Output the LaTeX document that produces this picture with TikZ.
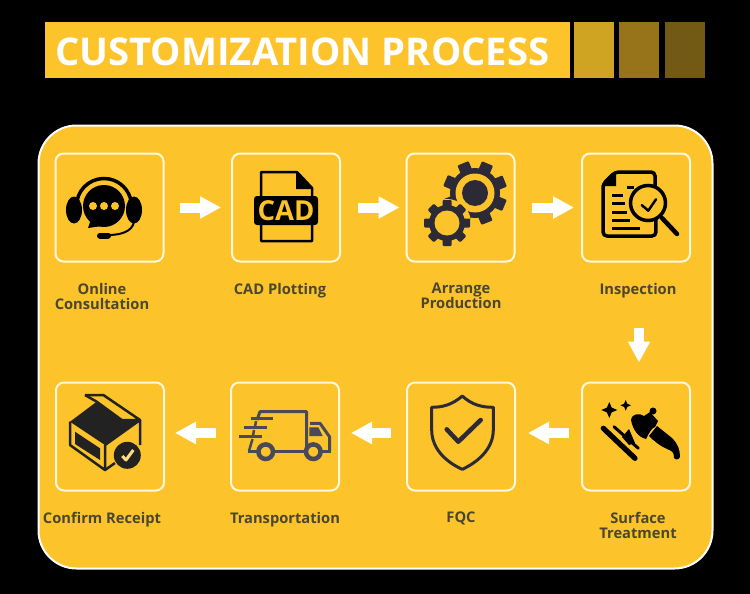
\documentclass[tikz,border=0pt]{standalone}
\usepackage{fontspec}
\setmainfont{Open Sans}[BoldFont={Open Sans Bold}]
\usetikzlibrary{positioning, arrows.meta}
\definecolor{panelyellow}{HTML}{FCC42A}
\definecolor{labelgray}{HTML}{4A4630}
\definecolor{geardark}{HTML}{2B2A36}
\definecolor{truckgray}{HTML}{4A495A}
\definecolor{boxline}{HTML}{FFF8E0}

\begin{document}
\begin{tikzpicture}[
		x=1pt, y=-1pt,
		stepbox/.style={draw=boxline, line width=2pt, rounded corners=8pt, minimum size=108pt, inner sep=0pt, outer sep=0pt},
		steplabel/.style={anchor=north, inner sep=0pt, align=center, text=labelgray, font=\fontsize{14.7}{15}\selectfont\bfseries},
		flow/.style={draw=white, line width=10pt, -{Triangle[length=21pt, width=21pt, fill=white]}},
		swatch/.style={minimum width=40pt, minimum height=56pt, inner sep=0pt, outer sep=0pt}
		]
		
		\fill[black] (0,0) rectangle (750,594);
		\useasboundingbox (0,0) rectangle (750,594);
		
		% ==========================================
		% 1. TITLE BAR
		% ==========================================
		\node[fill=panelyellow, minimum width=525pt, minimum height=56pt, inner sep=0pt, outer sep=0pt] (titlebar) at (307.5,50) {};
		\node[anchor=west, inner sep=0pt, text=white, font=\fontsize{38.2}{38}\selectfont\bfseries] (titletext) at (55,52) {CUSTOMIZATION PROCESS};
		\node[swatch, fill={rgb,255:red,208;green,164;blue,35}] (swatch1) at (594,50) {};
		\node[swatch, fill={rgb,255:red,151;green,116;blue,26}] (swatch2) at (639,50) {};
		\node[swatch, fill={rgb,255:red,115;green,90;blue,20}] (swatch3) at (685,50) {};
		
		% ==========================================
		% 2. PANEL AND STEP BOXES
		% ==========================================
		\node[draw=white, fill=panelyellow, line width=2pt, rounded corners=38pt, minimum width=674pt, minimum height=443pt, inner sep=0pt, outer sep=0pt] (panel) at (375.5,347) {};
		
		\node[stepbox] (consult) at (109.5,207.5) {};
		\node[stepbox] (cad) at (286,207.5) {};
		\node[stepbox] (arrange) at (460.5,207.5) {};
		\node[stepbox] (inspect) at (636,207.5) {};
		\node[stepbox] (surface) at (636,436.5) {};
		\node[stepbox] (fqc) at (461,436.5) {};
		\node[stepbox] (transport) at (285,436.5) {};
		\node[stepbox] (receipt) at (110,436.5) {};
		
		\node[steplabel] (consult_text) at (102,283) {Online\\Consultation};
		\node[steplabel] (cad_text) at (280,283) {CAD Plotting};
		\node[steplabel] (arrange_text) at (461,283) {Arrange\\Production};
		\node[steplabel] (inspect_text) at (638,283) {Inspection};
		\node[steplabel] (surface_text) at (638,512) {Surface\\Treatment};
		\node[steplabel] (fqc_text) at (461,512) {FQC};
		\node[steplabel] (transport_text) at (285,512) {Transportation};
		\node[steplabel] (receipt_text) at (102,512) {Confirm Receipt};
		
		% ==========================================
		% 3. ARROWS BETWEEN STEPS
		% ==========================================
		\draw[flow, shorten <=16pt, shorten >=11pt] (consult) -- (cad);
		\draw[flow, shorten <=18pt, shorten >=7pt] (cad) -- (arrange);
		\draw[flow, shorten <=17pt, shorten >=8pt] (arrange) -- (inspect);
		\draw[flow, shorten <=66pt, shorten >=20pt] ([xshift=3pt]inspect.south) -- ([xshift=3pt]surface.north);
		\draw[flow, shorten <=13pt, shorten >=13pt] ([yshift=3.5pt]surface.west) -- ([yshift=3.5pt]fqc.east);
		\draw[flow, shorten <=16pt, shorten >=12pt] ([yshift=3.5pt]fqc.west) -- ([yshift=3.5pt]transport.east);
		\draw[flow, shorten <=15pt, shorten >=11pt] ([yshift=3.5pt]transport.west) -- ([yshift=3.5pt]receipt.east);
		
		% ==========================================
		% 4. ICONS, TOP ROW
		% ==========================================
		% headset
		\fill[black] (104,206) circle (21);
		\fill[black] (90,222) -- (88,228) -- (102,226) -- cycle;
		\fill[panelyellow] (93,206) circle (4) (104,206) circle (4) (115,206) circle (4);
		\draw[black, line width=3.5pt] (104,206) ++(190:27.5) arc (190:350:27.5);
		\fill[black] (74,210) ellipse (8 and 13.5);
		\fill[black] (134,210) ellipse (8 and 13.5);
		\draw[black, line width=2pt] (134,222) .. controls (132,232) and (120,235) .. (108,235);
		\draw[black, line width=6pt, line cap=round] (100,235.5) -- (108,235.5);
		
		% CAD file
		\draw[black, line width=2.5pt, line join=round] (261,172) -- (297,172) -- (312,188) -- (312,241) -- (261,241) -- cycle;
		\fill[black] (296,172) -- (313,189) -- (296,189) -- cycle;
		\fill[black, rounded corners=3pt] (254,196) rectangle (318,225);
		\node[inner sep=0pt, text=panelyellow, font=\fontsize{27.5}{27}\selectfont\bfseries] (cad_word) at (286,211) {CAD};
		
		% gears
		\fill[geardark] (475,193) circle (25);
		\foreach \a in {0,45,...,315} {
			\fill[geardark, rounded corners=1pt, rotate around={\a+22:(475,193)}] (469,193) rectangle (481,161);
		}
		\fill[panelyellow] (475,193) circle (19.5);
		\fill[geardark] (475,193) circle (13);
		\fill[panelyellow] (447,223) circle (24);
		\fill[geardark] (447,223) circle (18);
		\foreach \a in {0,45,...,315} {
			\fill[geardark, rounded corners=1pt, rotate around={\a:(447,223)}] (442.5,223) rectangle (451.5,200);
		}
		\fill[panelyellow] (447,223) circle (12.5);
		
		% inspection sheet
		\draw[black, line width=3.5pt, rounded corners=4pt] (615,172) -- (655,172) -- (656,236) -- (603,236) -- (603,184) -- cycle;
		\fill[black] (616,171) -- (601,186) -- (616,186) -- cycle;
		\foreach \ya/\xa in {195/623, 203/625, 212/627, 220/630, 228/640} {
			\draw[black, line width=3pt] (612,\ya) -- (\xa,\ya);
		}
		\draw[black, line width=3pt] (627,187) -- (634,187);
		\draw[black, fill=panelyellow, line width=3.5pt] (648,203) circle (17.5);
		\draw[black, line width=4.5pt, line cap=round] (662,218) -- (677,234);
		\draw[black, line width=2.5pt, line cap=round, line join=round] (641.7,205) -- (648.3,210.7) -- (656,199.3);
		
		% ==========================================
		% 5. ICONS, BOTTOM ROW
		% ==========================================
		% surface treatment
		\fill[black] (609.3,402) -- (611.7,407.6) -- (617.3,410) -- (611.7,412.4) -- (609.3,418) -- (606.9,412.4) -- (601.3,410) -- (606.9,407.6) -- cycle;
		\fill[black] (625.7,400) -- (627.3,403.7) -- (631,405.3) -- (627.3,406.9) -- (625.7,410.6) -- (624.1,406.9) -- (620.4,405.3) -- (624.1,403.7) -- cycle;
		\draw[black, line width=5.3pt, line cap=round] (603.3,428.3) -- (635,458.3);
		\draw[black, line width=3pt, line cap=round] (614,426.7) -- (638.3,448.3);
		\fill[black] (622,437) -- (629,429) -- (635,443) -- (629,445) -- cycle;
		\fill[black] (631,420) .. controls (632,413) and (640,413) .. (644,416) -- (650,412) -- (658,421) -- (655,427) .. controls (652,428) and (650,431) .. (646,439) .. controls (638,437) and (633,430) .. (631,420) -- cycle;
		\fill[black] (653,411) circle (3.5);
		\fill[black] (649,436) -- (657,426) -- (672,438) .. controls (678,444) and (680,450) .. (680,457) .. controls (679,460) and (675,460) .. (674,458) .. controls (674,452) and (672,451) .. (667,449) .. controls (660,446) and (654,441) .. (649,436) -- cycle;
		
		% shield
		\draw[geardark, line width=3pt, line join=round] (462.3,396) .. controls (452,405) and (442,407.3) .. (431.7,407.3) -- (431.7,430) .. controls (431.7,450) and (448,463) .. (462.3,469.3) .. controls (476,463) and (493.3,450) .. (493.3,430) -- (493.3,407.3) .. controls (482,407.3) and (472,405) .. (462.3,396) -- cycle;
		\draw[geardark, line width=4.5pt, line cap=round, line join=round] (446.7,429.3) -- (458.3,441.7) -- (480.7,420);
		
		% truck
		\draw[truckgray, line width=3pt, line join=round] (257,420) -- (260,411.7) -- (306.7,411.7) -- (306.7,451);
		\draw[truckgray, line width=3pt, line join=round] (310,423.3) -- (320,423.3) -- (329.5,436.7) -- (329.5,451);
		\fill[truckgray] (309.3,427.3) -- (318.3,427.3) -- (322.7,436) -- (309.3,436) -- cycle;
		\draw[truckgray, line width=3.5pt] (248.3,451.7) -- (331,451.7);
		\draw[truckgray, line width=2.5pt] (250.7,418.3) -- (273.3,418.3);
		\draw[truckgray, line width=2.5pt] (244.3,427.3) -- (267.3,427.3);
		\draw[truckgray, line width=2.5pt] (239,436.7) -- (261.7,436.7);
		\draw[truckgray, line width=2.5pt] (256,421) -- (255,427);
		\draw[truckgray, line width=2.5pt] (254,430) -- (253,436);
		\draw[truckgray, line width=2.5pt] (252.5,439) -- (249,451);
		\draw[truckgray, fill=panelyellow, line width=4.5pt] (265.7,451.7) circle (7.3);
		\draw[truckgray, fill=panelyellow, line width=4.5pt] (313.3,451.7) circle (7.3);
		
		% opened box
		\definecolor{boxdark}{HTML}{222222}
		\fill[boxdark] (70,421.7) -- (96.7,401.7) -- (121.7,420) -- (140,420) -- (105,445) -- cycle;
		\draw[boxdark, line width=2.5pt, line join=round] (85,395) -- (103.3,395) -- (140,420) -- (121.7,420) -- (96.7,401.7);
		\draw[boxdark, line width=2.5pt] (85,395) -- (96.7,401.7);
		\draw[boxdark, line width=2.5pt, line join=round] (70,421.7) -- (70,445) -- (105,470) -- (105,445);
		\draw[boxdark, line width=2.5pt, line join=round] (105,445) -- (140,420) -- (140,445);
		\draw[boxdark, line width=2.5pt] (105,470) -- (115,463);
		\fill[boxdark] (75,431.7) -- (100,448.3) -- (100,460) -- (75,444) -- cycle;
		\fill[boxdark] (127.3,455.3) circle (13.5);
		\draw[panelyellow!60!white, line width=3pt, line join=round] (122.3,456) -- (126,460) -- (133.3,450);
		
	\end{tikzpicture}
\end{document}
